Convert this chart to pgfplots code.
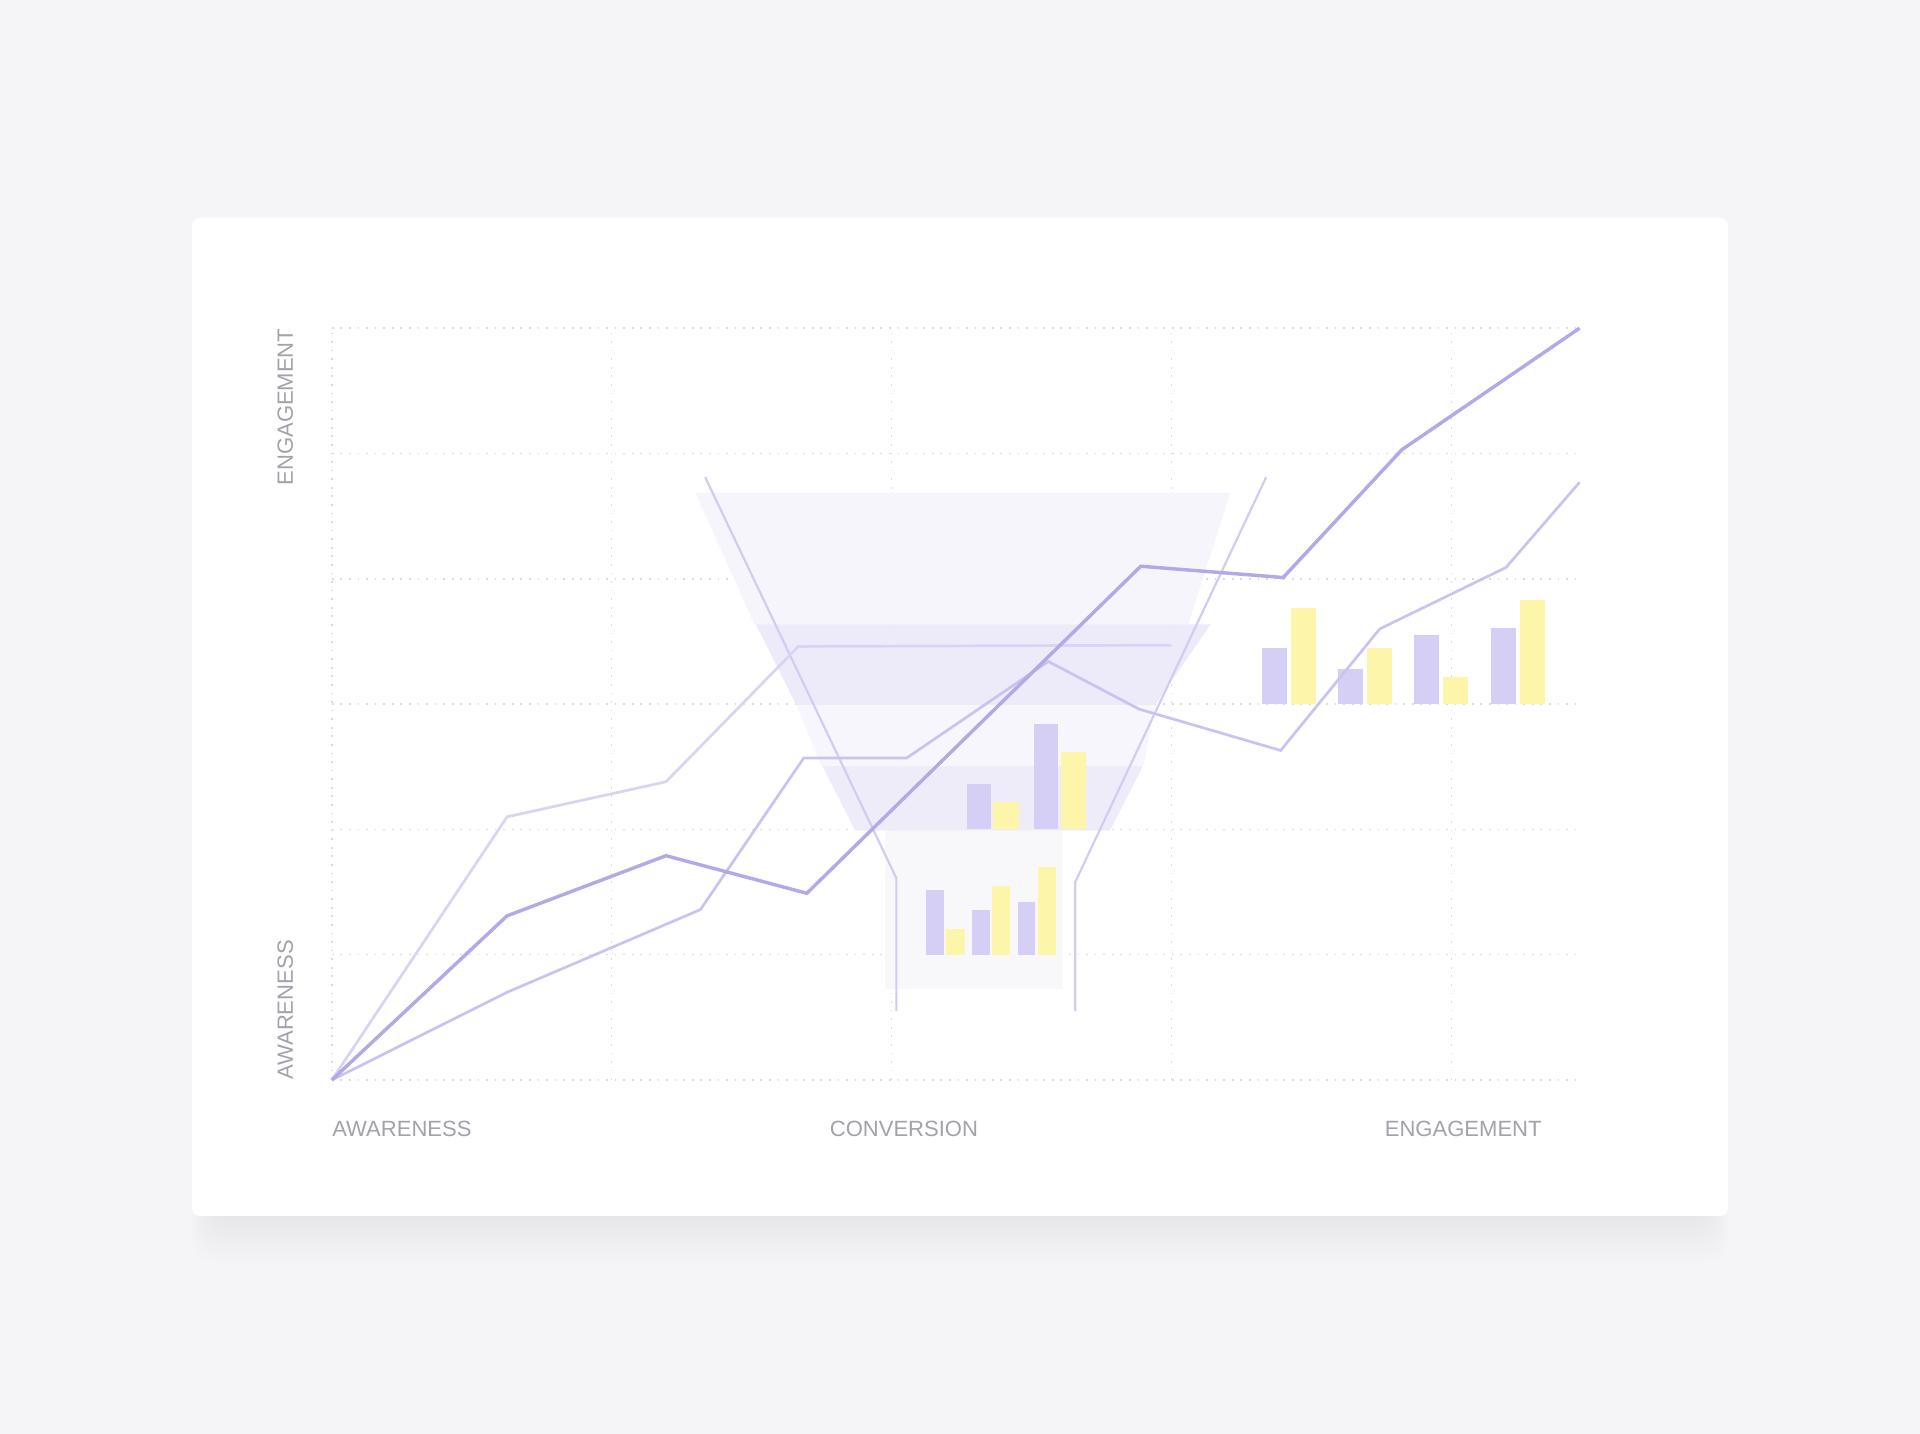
\documentclass[border=0pt]{standalone}
\usepackage{pgfplots}
\pgfplotsset{compat=1.18}
\usetikzlibrary{backgrounds}
\usepackage{fontspec}
\setmainfont{Liberation Sans}

\definecolor{bgc}{HTML}{F5F5F7}
\definecolor{gridc}{HTML}{DADADF}
\definecolor{txt}{HTML}{A2A2AA}
\definecolor{lineA}{HTML}{B3A8E8}
\definecolor{lineB}{HTML}{D9D3F4}
\definecolor{lineC}{HTML}{CAC2F0}
\definecolor{funnelc}{HTML}{D2CCF2}
\definecolor{barP}{HTML}{D5CEF5}
\definecolor{barY}{HTML}{FDF6AA}
\definecolor{bandA}{HTML}{F6F5FC}
\definecolor{bandB}{HTML}{EDEAFA}
\definecolor{bandC}{HTML}{F7F6FC}
\definecolor{bandD}{HTML}{EFECFA}
\definecolor{bandE}{HTML}{F8F8FB}

% one bar: x from, x to, base, top, colour
\newcommand\barrect[5]{\addplot[fill=#5, draw=none] coordinates {(#1,#3) (#2,#3) (#2,#4) (#1,#4)} --cycle;}

\begin{document}
\begin{tikzpicture}[x=1pt,y=1pt]
  \begin{axis}[
      scale only axis,
      width=509.5pt, height=307pt,
      xmin=0, xmax=4.458, ymin=0, ymax=6,
      xtick={0,...,4}, ytick={0,...,6},
      xticklabels={}, yticklabels={},
      major tick length=0pt,
      axis line style={draw=none},
      grid=major,
      major grid style={gridc, line width=0.6pt, dash pattern=on 0.7pt off 2.8pt},
      clip=false,
    ]
    \coordinate (O) at (axis cs:0,0);

    % funnel bands
    \addplot[fill=bandA, draw=none] coordinates {(1.30,4.685) (3.21,4.685) (3.06,3.636) (1.51,3.636)} --cycle;
    \addplot[fill=bandB, draw=none] coordinates {(1.515,3.636) (3.14,3.636) (2.94,2.99) (1.66,2.99)} --cycle;
    \addplot[fill=bandC, draw=none] coordinates {(1.66,2.99) (2.94,2.99) (2.90,2.504) (1.75,2.504)} --cycle;
    \addplot[fill=bandD, draw=none] coordinates {(1.753,2.504) (2.897,2.504) (2.78,1.99) (1.87,1.99)} --cycle;
    \addplot[fill=bandE, draw=none] coordinates {(1.978,1.99) (2.612,1.99) (2.612,0.729) (1.978,0.729)} --cycle;

    % funnel outline
    \addplot[funnelc, line width=0.9pt] coordinates {(1.334,4.81) (2.017,1.61) (2.017,0.55)};
    \addplot[funnelc, line width=0.9pt] coordinates {(3.338,4.81) (2.656,1.58) (2.656,0.55)};

    % bars, lower group
    \barrect{2.123}{2.188}{1}{1.517}{barP}
    \barrect{2.196}{2.262}{1}{1.204}{barY}
    \barrect{2.287}{2.350}{1}{1.358}{barP}
    \barrect{2.358}{2.423}{1}{1.545}{barY}
    \barrect{2.450}{2.513}{1}{1.420}{barP}
    \barrect{2.522}{2.587}{1}{1.700}{barY}
    % bars, middle group
    \barrect{2.268}{2.354}{2}{2.364}{barP}
    \barrect{2.362}{2.454}{2}{2.218}{barY}
    \barrect{2.508}{2.593}{2}{2.840}{barP}
    \barrect{2.606}{2.694}{2}{2.616}{barY}
    % bars, right group
    \barrect{3.325}{3.414}{3}{3.449}{barP}
    \barrect{3.428}{3.517}{3}{3.769}{barY}
    \barrect{3.595}{3.685}{3}{3.279}{barP}
    \barrect{3.700}{3.789}{3}{3.449}{barY}
    \barrect{3.867}{3.956}{3}{3.551}{barP}
    \barrect{3.970}{4.061}{3}{3.218}{barY}
    \barrect{4.140}{4.230}{3}{3.609}{barP}
    \barrect{4.244}{4.336}{3}{3.830}{barY}

    % lines
    \addplot[lineB, line width=1.1pt] coordinates {
      (0,0) (0.626,2.10) (1.194,2.38) (1.667,3.46) (3.0,3.47)};
    \addplot[lineC, line width=1.1pt] coordinates {
      (0,0) (0.626,0.70) (1.317,1.36) (1.686,2.57) (2.054,2.57) (2.56,3.34)
      (2.884,2.96) (3.39,2.63) (3.744,3.60) (4.195,4.09) (4.458,4.77)};
    \addplot[lineA, line width=1.4pt] coordinates {
      (0,0) (0.626,1.31) (1.194,1.79) (1.697,1.49) (2.890,4.10)
      (3.399,4.01) (3.823,5.03) (4.458,6.0)};

    % labels
    \node[anchor=west, inner sep=0pt, text=txt, font=\fontsize{9}{10}\selectfont]
      at ([yshift=-20pt]axis cs:0,0) {AWARENESS};
    \node[anchor=center, inner sep=0pt, text=txt, font=\fontsize{9}{10}\selectfont]
      at ([yshift=-20pt]axis cs:2.044,0) {CONVERSION};
    \node[anchor=east, inner sep=0pt, text=txt, font=\fontsize{9}{10}\selectfont]
      at ([yshift=-20pt]axis cs:4.324,0) {ENGAGEMENT};
    \node[rotate=90, anchor=east, inner sep=0pt, text=txt, font=\fontsize{9}{10}\selectfont]
      at ([xshift=-19pt]axis cs:0,6) {ENGAGEMENT};
    \node[rotate=90, anchor=west, inner sep=0pt, text=txt, font=\fontsize{9}{10}\selectfont]
      at ([xshift=-19pt]axis cs:0,0) {AWARENESS};
  \end{axis}

  % page, card and its shadow, placed relative to the axis origin
  \begin{scope}[on background layer, shift={(O)}]
    \fill[bgc] (-135.5,-144.5) rectangle (648.5,441);
    \foreach \i in {1,...,14} {
      \fill[black, opacity=0.0035, rounded corners=10]
        (-57+8-\i*0.6, -55.5-\i*1.4) rectangle (570-8+\i*0.6, 352-20);
    }
    \fill[white, rounded corners=3] (-57,-55.5) rectangle (570,352);
  \end{scope}
\end{tikzpicture}
\end{document}
